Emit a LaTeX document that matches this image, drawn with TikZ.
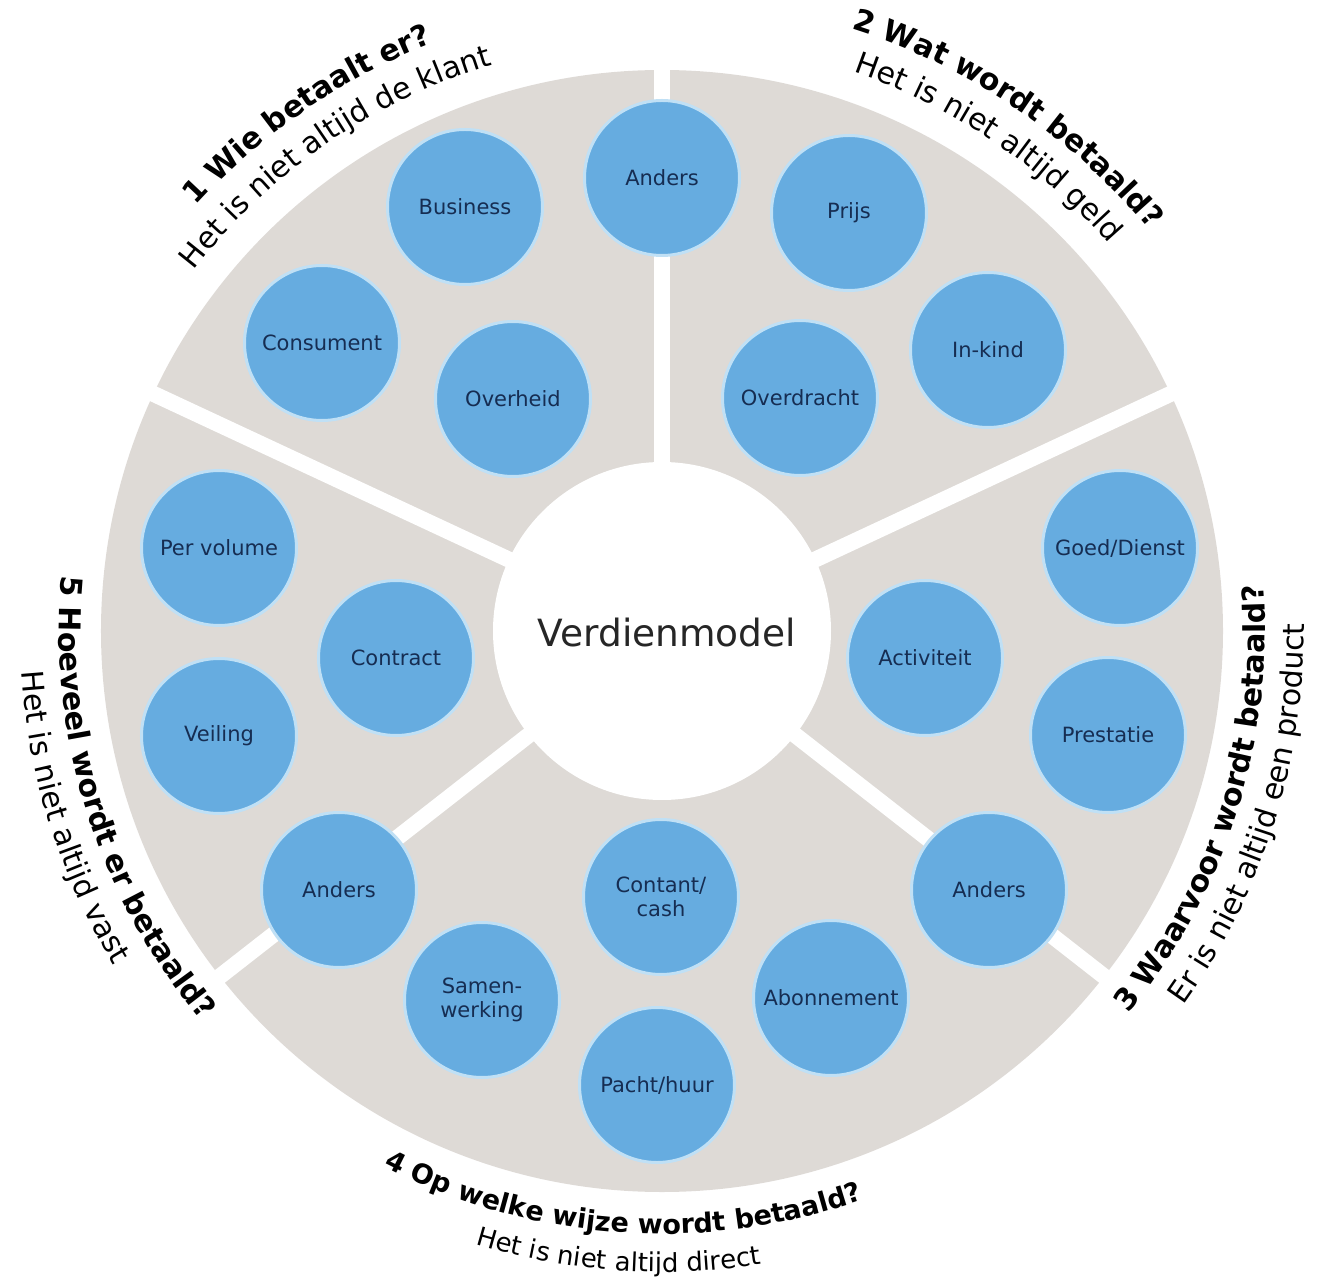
\documentclass[tikz,border=0pt]{standalone}
\usepackage{fontspec}
\setmainfont{DejaVu Sans}
\usetikzlibrary{decorations.text}

\definecolor{sectorgrijs}{RGB}{222,218,214}
\definecolor{bolblauw}{RGB}{102,172,224}
\definecolor{randblauw}{RGB}{192,224,245}
\definecolor{tekstblauw}{RGB}{22,45,82}

\newcommand{\titelvet}{\fontsize{30}{36}\selectfont\bfseries}
\newcommand{\titeldun}{\fontsize{30}{36}\selectfont}
\newcommand{\ondervet}{\fontsize{27}{32}\selectfont\bfseries}
\newcommand{\onderdun}{\fontsize{26}{32}\selectfont}

\tikzset{
  bol/.style={circle,fill=bolblauw,draw=randblauw,line width=3pt,minimum size=155pt,
    inner sep=0pt,align=center,text=tekstblauw,font=\fontsize{21}{24}\selectfont},
  titel/.style={decorate,decoration={text along path,text align=center,text={#1}}}
}

\begin{document}
\begin{tikzpicture}[x=1pt,y=1pt]
  \useasboundingbox (-662,-645) rectangle (670,631);

  % sectoren
  \fill[sectorgrijs] (0,0) circle (561);
  \foreach \a in {90,25,-38,-142,155} {
    \draw[white,line width=16pt] (0,0) -- (\a:600);
  }
  \node[circle,fill=white,minimum size=338pt,inner sep=0pt] (kern) at (0,0) {};
  \node[font=\fontsize{37.5}{42}\selectfont,text=black!85] (verdienmodel) at (5,-2) {Verdienmodel};

  % 1 Wie betaalt er?
  \node[bol] (anders1)   at (0,453)    {Anders};
  \node[bol] (business)  at (-197,424) {Business};
  \node[bol] (consument) at (-340,288) {Consument};
  \node[bol] (overheid)  at (-149,232) {Overheid};

  % 2 Wat wordt betaald?
  \node[bol] (prijs)      at (187,418) {Prijs};
  \node[bol] (inkind)     at (326,281) {In-kind};
  \node[bol] (overdracht) at (138,233) {Overdracht};

  % 3 Waarvoor wordt betaald?
  \node[bol] (goeddienst) at (458,83)   {Goed/Dienst};
  \node[bol] (activiteit) at (263,-27)  {Activiteit};
  \node[bol] (prestatie)  at (446,-104) {Prestatie};
  \node[bol] (anders3)    at (327,-259) {Anders};

  % 4 Op welke wijze wordt betaald?
  \node[bol] (contant)     at (-1,-266)   {Contant/\\cash};
  \node[bol] (abonnement)  at (169,-367)  {Abonnement};
  \node[bol] (samenwerking) at (-180,-369) {Samen-\\werking};
  \node[bol] (pacht)       at (-5,-454)   {Pacht/huur};

  % 5 Hoeveel wordt er betaald?
  \node[bol] (pervolume) at (-443,83)   {Per volume};
  \node[bol] (contract)  at (-266,-27)  {Contract};
  \node[bol] (veiling)   at (-443,-105) {Veiling};
  \node[bol] (anders5)   at (-323,-259) {Anders};

  % titels langs de rand
  \path[titel={|\titelvet|1 Wie betaalt er?}] (164.5:631) arc[start angle=164.5,end angle=84.5,radius=631];
  \path[titel={|\titeldun|Het is niet altijd de klant}] (164.5:591) arc[start angle=164.5,end angle=84.5,radius=591];

  \path[titel={|\titelvet|2 Wat wordt betaald?}] (96:631) arc[start angle=96,end angle=16,radius=631];
  \path[titel={|\titeldun|Het is niet altijd geld}] (96:591) arc[start angle=96,end angle=16,radius=591];

  \path[titel={|\titelvet|3 Waarvoor wordt betaald?}] (-57.5:603) arc[start angle=-57.5,end angle=22.5,radius=603];
  \path[titel={|\titeldun|Er is niet altijd een product}] (-57.5:642) arc[start angle=-57.5,end angle=22.5,radius=642];

  \path[titel={|\ondervet|4 Op welke wijze wordt betaald?}] (-134:603) arc[start angle=-134,end angle=-54,radius=603];
  \path[titel={|\onderdun|Het is niet altijd direct}] (-134:641) arc[start angle=-134,end angle=-54,radius=641];

  \path[titel={|\titelvet|5 Hoeveel wordt er betaald?}] (157.5:603) arc[start angle=157.5,end angle=237.5,radius=603];
  \path[titel={|\titeldun|Het is niet altijd vast}] (157.5:642) arc[start angle=157.5,end angle=237.5,radius=642];
\end{tikzpicture}
\end{document}
